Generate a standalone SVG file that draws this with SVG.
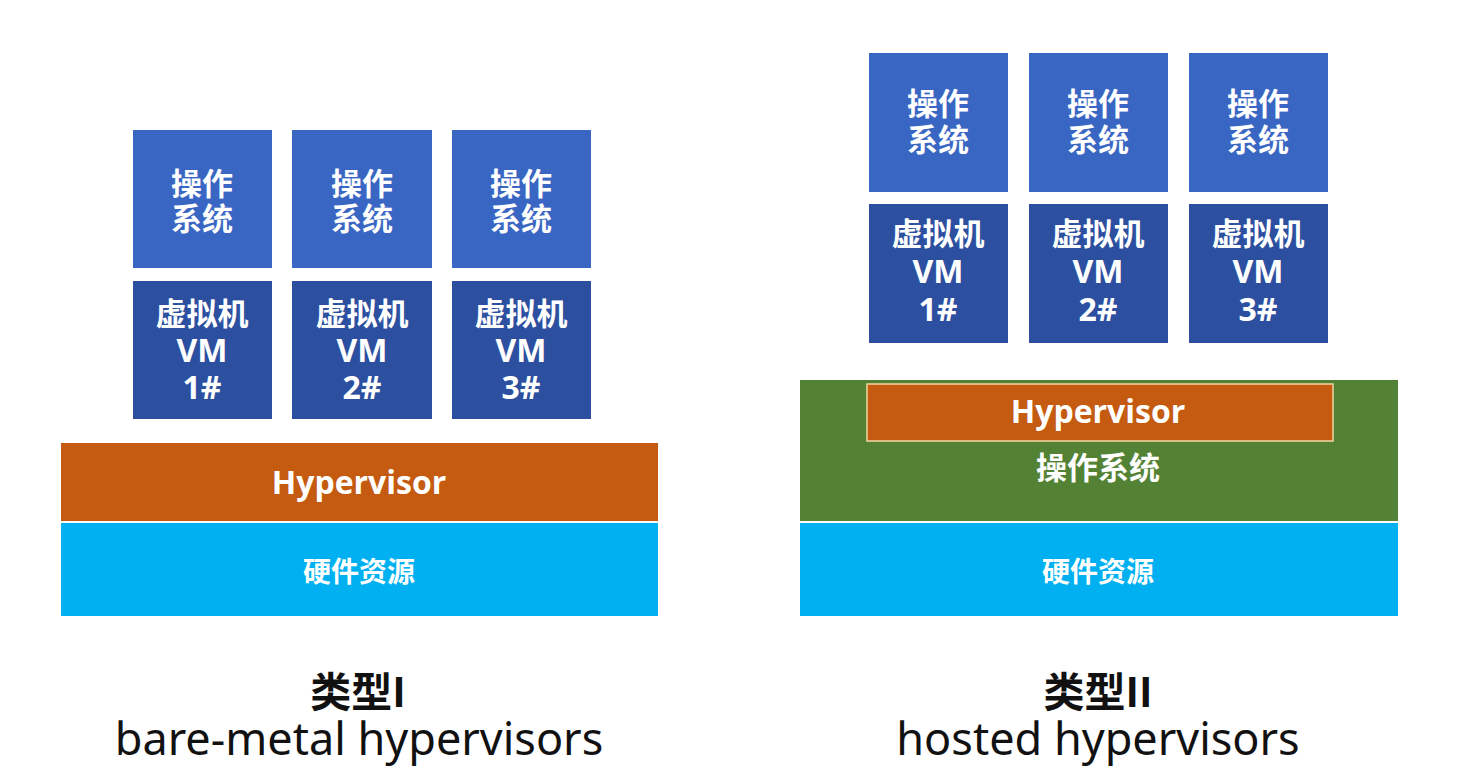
<svg xmlns="http://www.w3.org/2000/svg" width="1458" height="784" viewBox="0 0 1458 784">
<style>
.os{fill:#3a66c3}
.vm{fill:#2c4fa0}
.hv{fill:#c55a11}
.hw{fill:#00b0f0}
.gr{fill:#548235}
.t{font-family:"Noto Sans CJK SC","Noto Sans",sans-serif;font-weight:bold;fill:#ffffff;text-anchor:middle;font-size:31px}
.tl{font-family:"Open Sans","Noto Sans",sans-serif;font-weight:bold;fill:#ffffff;text-anchor:middle;font-size:32px}
.hwt{font-size:28px}
.cap{font-family:"Noto Sans CJK SC",sans-serif;font-weight:bold;fill:#111;text-anchor:middle;font-size:41px}
.sub{font-family:"Noto Sans","Open Sans",sans-serif;fill:#111;text-anchor:middle;font-size:45px}
</style>
<rect width="1458" height="784" fill="#ffffff"/>
<!-- Left: Type I -->
<g id="l-os1"><rect class="os" x="133" y="130" width="139" height="138"/><text class="t" x="202" y="195">操作</text><text class="t" x="202" y="230">系统</text></g>
<g id="l-os2"><rect class="os" x="292" y="130" width="140" height="138"/><text class="t" x="362" y="195">操作</text><text class="t" x="362" y="230">系统</text></g>
<g id="l-os3"><rect class="os" x="452" y="130" width="139" height="138"/><text class="t" x="521" y="195">操作</text><text class="t" x="521" y="230">系统</text></g>
<g id="l-vm1"><rect class="vm" x="133" y="281" width="139" height="138"/><text class="t" x="202" y="325">虚拟机</text><text class="tl" x="202" y="362">VM</text><text class="tl" x="202" y="399">1#</text></g>
<g id="l-vm2"><rect class="vm" x="292" y="281" width="140" height="138"/><text class="t" x="362" y="325">虚拟机</text><text class="tl" x="362" y="362">VM</text><text class="tl" x="362" y="399">2#</text></g>
<g id="l-vm3"><rect class="vm" x="452" y="281" width="139" height="138"/><text class="t" x="521" y="325">虚拟机</text><text class="tl" x="521" y="362">VM</text><text class="tl" x="521" y="399">3#</text></g>
<g id="l-hyp"><rect class="hv" x="61" y="443" width="597" height="78"/><text class="tl" x="359" y="494">Hypervisor</text></g>
<g id="l-hw"><rect class="hw" x="61" y="523" width="597" height="93"/><text class="t hwt" x="359" y="582">硬件资源</text></g>
<g id="l-cap"><text class="cap" x="358" y="707">类型I</text><text class="sub" x="359" y="755">bare-metal hypervisors</text></g>
<!-- Right: Type II -->
<g id="r-os1"><rect class="os" x="869" y="53" width="139" height="139"/><text class="t" x="938" y="115">操作</text><text class="t" x="938" y="151">系统</text></g>
<g id="r-os2"><rect class="os" x="1029" y="53" width="139" height="139"/><text class="t" x="1098" y="115">操作</text><text class="t" x="1098" y="151">系统</text></g>
<g id="r-os3"><rect class="os" x="1189" y="53" width="139" height="139"/><text class="t" x="1258" y="115">操作</text><text class="t" x="1258" y="151">系统</text></g>
<g id="r-vm1"><rect class="vm" x="869" y="204" width="139" height="139"/><text class="t" x="938" y="245">虚拟机</text><text class="tl" x="938" y="283">VM</text><text class="tl" x="938" y="321">1#</text></g>
<g id="r-vm2"><rect class="vm" x="1029" y="204" width="139" height="139"/><text class="t" x="1098" y="245">虚拟机</text><text class="tl" x="1098" y="283">VM</text><text class="tl" x="1098" y="321">2#</text></g>
<g id="r-vm3"><rect class="vm" x="1189" y="204" width="139" height="139"/><text class="t" x="1258" y="245">虚拟机</text><text class="tl" x="1258" y="283">VM</text><text class="tl" x="1258" y="321">3#</text></g>
<g id="r-host"><rect class="gr" x="800" y="380" width="598" height="141"/><text class="t" x="1098" y="479">操作系统</text></g>
<g id="r-hyp"><rect class="hv" x="867" y="384" width="466" height="57" stroke="#f2d6a0" stroke-width="1.5"/><text class="tl" x="1098" y="423">Hypervisor</text></g>
<g id="r-hw"><rect class="hw" x="800" y="523" width="598" height="93"/><text class="t hwt" x="1098" y="582">硬件资源</text></g>
<g id="r-cap"><text class="cap" x="1098" y="707">类型II</text><text class="sub" x="1098" y="755">hosted hypervisors</text></g>
<g id="connectors"></g>
</svg>
